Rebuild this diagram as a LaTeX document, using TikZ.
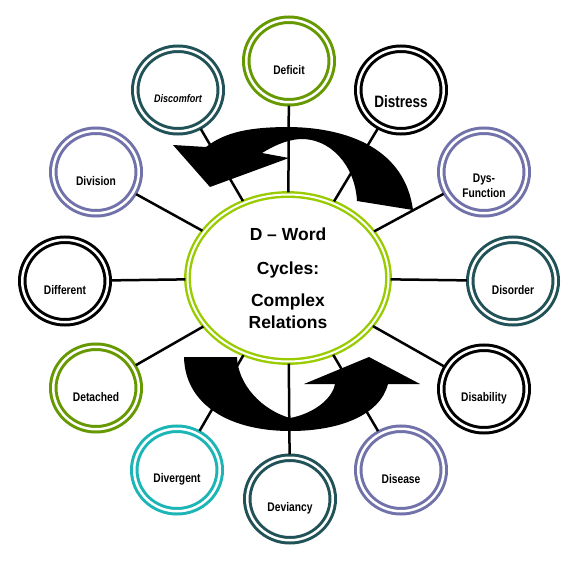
\documentclass[tikz,border=0pt]{standalone}
\usepackage{fontspec}
\setmainfont{Liberation Sans}
\newfontfamily\narrowfont[FakeStretch=0.82]{Liberation Sans}
\usetikzlibrary{shapes.geometric}
\definecolor{coregreen}{HTML}{99CC00}
\definecolor{olivering}{HTML}{669900}
\definecolor{tealring}{HTML}{215257}
\definecolor{lilacring}{HTML}{7272AA}
\definecolor{cyanring}{HTML}{1BB5B5}
\tikzset{
	core/.style={ellipse, draw=coregreen, double=white, double distance=2pt, line width=2.4pt, minimum width=201pt, minimum height=167pt, inner sep=0pt, align=center, font=\bfseries\fontsize{17.5}{22}\selectfont},
	ring/.style={ellipse, draw=#1, double=white, double distance=2.5pt, line width=3pt, minimum width=85.5pt, minimum height=82.5pt, inner sep=0pt},
	word/.style={draw=none, align=center, yshift=-9pt, font=\narrowfont\bfseries\fontsize{12.5}{15}\selectfont},
	link/.style={line width=2.5pt, shorten <=1pt, shorten >=2pt}
}

\begin{document}
\begin{tikzpicture}[x=1pt, y=-1pt]
		%%%%% START %%%%%
		\useasboundingbox (0, 0) rectangle (578, 564);
		
		\node[core] (core) at (288, 278) {D – Word\\[12pt]Cycles:\\[10pt]Complex\\Relations};
		
		\node[ring=olivering, label={[word]center:Deficit}] (deficit) at (289, 61) {};
		\node[ring=black, label={[word, yshift=-3pt, font=\narrowfont\bfseries\fontsize{16.5}{18}\selectfont]center:Distress}] (distress) at (401, 90) {};
		\node[ring=lilacring, label={[word, yshift=-5pt]center:Dys-\\Function}] (dysfunction) at (484, 172) {};
		\node[ring=tealring, label={[word]center:Disorder}] (disorder) at (513, 281) {};
		\node[ring=black, label={[word]center:Disability}] (disability) at (484, 389) {};
		\node[ring=lilacring, label={[word]center:Disease}] (disease) at (401, 470) {};
		\node[ring=tealring, label={[word]center:Deviancy}] (deviancy) at (290, 499) {};
		\node[ring=cyanring, label={[word]center:Divergent}] (divergent) at (177, 470) {};
		\node[ring=olivering, label={[word]center:Detached}] (detached) at (96, 388) {};
		\node[ring=black, label={[word]center:Different}] (different) at (65, 281) {};
		\node[ring=lilacring, label={[word]center:Division}] (division) at (96, 172) {};
		\node[ring=tealring, label={[word, font=\narrowfont\bfseries\itshape\fontsize{11}{13}\selectfont]center:Discomfort}] (discomfort) at (178, 90) {};
		
		\draw[link] (core) -- (deficit);
		\draw[link] (core) -- (distress);
		\draw[link] (core) -- (dysfunction);
		\draw[link] (core) -- (disorder);
		\draw[link] (core) -- (disability);
		\draw[link] (core) -- (disease);
		\draw[link] (core) -- (deviancy);
		\draw[link] (core) -- (divergent);
		\draw[link] (core) -- (detached);
		\draw[link] (core) -- (different);
		\draw[link] (core) -- (division);
		\draw[link] (core) -- (discomfort);
		
		% cycle arrows
		\fill (173, 145) -- (206, 147) .. controls (225, 132) and (250, 127) .. (290, 127) .. controls (350, 128) and (405, 150) .. (413, 210) -- (357, 201) .. controls (355, 165) and (330, 138) .. (300, 139) .. controls (285, 140) and (272, 147) .. (262, 153) -- (289, 158) -- (210, 187) -- cycle;
		\fill (184, 357) -- (237, 357) .. controls (238, 385) and (262, 410) .. (290, 418) .. controls (312, 414) and (332, 400) .. (335, 384) -- (304, 384) -- (369, 357) -- (420, 384) -- (388, 384) .. controls (380, 415) and (340, 431) .. (290, 431) .. controls (230, 431) and (185, 405) .. (184, 357) -- cycle;
		%%%%% END %%%%%
\end{tikzpicture}
\end{document}
